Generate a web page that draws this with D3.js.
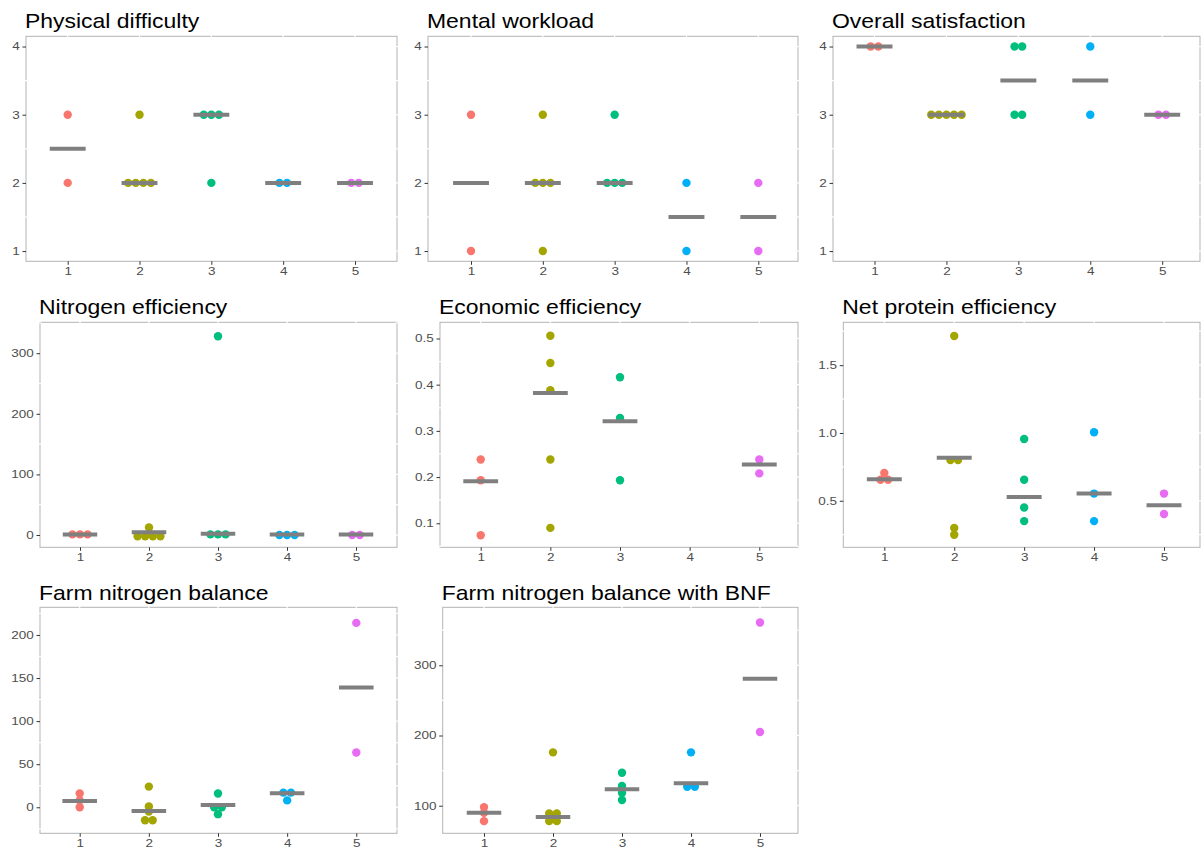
<!DOCTYPE html>
<html><head><meta charset="utf-8">
<script src="https://cdn.jsdelivr.net/npm/d3@7"></script>
<style>
html,body{margin:0;padding:0;background:#fff;}
svg{display:block;}
</style></head><body>
<svg id="chart" width="1203" height="847"></svg>
<script>
// ---------- DATA ----------
const groups = ["1","2","3","4","5"];
const groupColors = ["#F8766D","#A3A500","#00BF7D","#00B0F6","#E76BF3"];
const titles = ["Physical difficulty","Mental workload","Overall satisfaction",
  "Nitrogen efficiency","Economic efficiency","Net protein efficiency",
  "Farm nitrogen balance","Farm nitrogen balance with BNF"];

const physicalDifficulty = [[3,2],[3,2,2,2,2],[3,3,3,2],[2,2],[2,2]];
const physicalMedian = [2.5,2,3,2,2];

const mentalWorkload = [[3,1],[3,2,2,2,1],[3,2,2,2],[2,1],[2,1]];
const mentalMedian = [2,2,2,1.5,1.5];

const overallSatisfaction = [[4,4],[3,3,3,3,3],[4,4,3,3],[4,3],[3,3]];
const overallMedian = [4,3,3.5,3.5,3];

const nitrogenEfficiency = [[1,1,1],[12.5,-2,-2,-2,-2],[328,1,1,1],[0,0,0],[0,0]];
const nitrogenMedian = [1,4.5,2,1,1];

const economicEfficiency = [[0.238,0.193,0.074],[0.506,0.447,0.388,0.238,0.090],[0.416,0.328,0.193],[],[0.238,0.208]];
const economicMedian = [0.191,0.382,0.321,null,0.227];

const netProtein = [[0.705,0.655,0.655],[1.715,0.80,0.80,0.30,0.25],[0.955,0.655,0.45,0.35],[1.005,0.553,0.35],[0.553,0.403]];
const netProteinMedian = [0.659,0.818,0.528,0.553,0.467];

const farmN = [[16,8,0],[24,1,-5,-15,-15],[16,0,0,-8],[17,17,8],[214,63.5]];
const farmNMedian = [7.3,-4.3,2.7,16.2,139];

const farmNBNF = [[98,90,78],[176,89,89,78,78],[147,128,118,108],[176,127,127],[361,205]];
const farmNBNFMedian = [90,84,123.4,132,281];

const yTicksLikert = [1,2,3,4];
const yTicksNitrogen = [0,100,200,300];
const yTicksEconomic = [0.1,0.2,0.3,0.4,0.5];
const yTicksProtein = [0.5,1.0,1.5];
const yTicksFarmN = [0,50,100,150,200];
const yTicksBNF = [100,200,300];

const panels = [
  {values: physicalDifficulty, medians: physicalMedian, yLimits:[0.85,4.15], yTicks:yTicksLikert, fmt:"d"},
  {values: mentalWorkload, medians: mentalMedian, yLimits:[0.85,4.15], yTicks:yTicksLikert, fmt:"d"},
  {values: overallSatisfaction, medians: overallMedian, yLimits:[0.85,4.15], yTicks:yTicksLikert, fmt:"d"},
  {values: nitrogenEfficiency, medians: nitrogenMedian, yLimits:[-20.3,351], yTicks:yTicksNitrogen, fmt:"d"},
  {values: economicEfficiency, medians: economicMedian, yLimits:[0.048,0.535], yTicks:yTicksEconomic, fmt:".1f"},
  {values: netProtein, medians: netProteinMedian, yLimits:[0.157,1.816], yTicks:yTicksProtein, fmt:".1f"},
  {values: farmN, medians: farmNMedian, yLimits:[-30.2,232.1], yTicks:yTicksFarmN, fmt:"d"},
  {values: farmNBNF, medians: farmNBNFMedian, yLimits:[60.7,382.6], yTicks:yTicksBNF, fmt:"d"}
];

// ---------- LAYOUT ----------
const rowY = [{top:36.3,bottom:261.3,title:27.5},{top:322.3,bottom:547.3,title:314},{top:607.3,bottom:833.3,title:600}];
const layout = [
  {left:26,   right:397,  x1:67.7,  x5:355,   row:0},
  {left:428,  right:798,  x1:471,   x5:758.3, row:0},
  {left:833,  right:1200, x1:874.5, x5:1162.2,row:0},
  {left:40,   right:397,  x1:80,    x5:356,   row:1},
  {left:440,  right:798,  x1:480.7, x5:759.3, row:1},
  {left:843.3,right:1200, x1:884.3, x5:1164,  row:1},
  {left:40,   right:397,  x1:79.7,  x5:356.3, row:2},
  {left:442.7,right:798,  x1:484,   x5:760,   row:2}
];

const FONT = "Liberation Sans, Arial, Helvetica, sans-serif";
const svg = d3.select("#chart");
const dotR = 4.2, dotStep = 7.6;

panels.forEach((P, i) => {
  const L = layout[i], R = rowY[L.row];
  const top = R.top, bottom = R.bottom;
  const x = d3.scaleLinear().domain([1,5]).range([L.x1, L.x5]);
  const y = d3.scaleLinear().domain(P.yLimits).range([bottom, top]);
  const step = (L.x5 - L.x1) / 4;
  const g = svg.append("g");

  // panel border
  g.append("rect").attr("x", L.left).attr("y", top)
    .attr("width", L.right - L.left).attr("height", bottom - top)
    .attr("fill", "#fff").attr("stroke", "#b3b3b3").attr("stroke-width", 1);

  // white grid breaks on border
  const gaps = g.append("g").attr("stroke", "#fff").attr("stroke-width", 1.2);
  d3.range(1, 6).forEach(k => {
    gaps.append("line").attr("x1", x(k)).attr("x2", x(k)).attr("y1", top - 1.5).attr("y2", top + 1.5);
  });
  const t = P.yTicks, d = t[1] - t[0];
  const minors = [];
  for (let v = t[0] - d / 2; v <= P.yLimits[1]; v += d / 2) {
    if (v > P.yLimits[0] && v < P.yLimits[1]) minors.push(v);
  }
  minors.forEach(v => {
    gaps.append("line").attr("x1", L.right - 1.5).attr("x2", L.right + 1.5).attr("y1", y(v)).attr("y2", y(v));
    if (!t.some(tt => Math.abs(tt - v) < 1e-9))
      gaps.append("line").attr("x1", L.left - 1.5).attr("x2", L.left + 1.5).attr("y1", y(v)).attr("y2", y(v));
  });

  // dots (dotplot-style centered stacks)
  const dots = [];
  P.values.forEach((vals, gi) => {
    const counts = d3.rollup(vals, a => a.length, v => v);
    for (const [v, n] of counts) {
      for (let k = 0; k < n; k++) dots.push({g: gi, v: v, off: (k - (n - 1) / 2) * dotStep});
    }
  });
  g.append("g").selectAll("circle").data(dots).join("circle")
    .attr("cx", dd => x(dd.g + 1) + dd.off)
    .attr("cy", dd => y(dd.v))
    .attr("r", dotR)
    .attr("fill", dd => groupColors[dd.g]);

  // median bars
  g.append("g").selectAll("line").data(P.medians.map((m, gi) => ({m, gi})).filter(dd => dd.m !== null))
    .join("line")
    .attr("x1", dd => x(dd.gi + 1) - step * 0.25)
    .attr("x2", dd => x(dd.gi + 1) + step * 0.25)
    .attr("y1", dd => y(dd.m)).attr("y2", dd => y(dd.m))
    .attr("stroke", "#7f7f7f").attr("stroke-width", 4);

  // axes
  const yAxis = g.append("g").attr("transform", `translate(${L.left},0)`)
    .call(d3.axisLeft(y).tickValues(P.yTicks).tickFormat(d3.format(P.fmt)).tickSize(3.5).tickPadding(1.5));
  const xAxis = g.append("g").attr("transform", `translate(0,${bottom})`)
    .call(d3.axisBottom(x).tickValues([1,2,3,4,5]).tickFormat(k => groups[k - 1]).tickSize(3.5).tickPadding(2.5));
  [yAxis, xAxis].forEach(a => {
    a.select(".domain").remove();
    a.attr("font-family", FONT).attr("font-size", 10.8);
    a.selectAll("line").attr("stroke", "#333").attr("stroke-width", 1);
    a.selectAll("text").attr("fill", "#4d4d4d").attr("transform", "scale(1.25,1)");
  });

  // title
  g.append("text")
    .attr("transform", `translate(${L.left - 1},${R.title}) scale(1.12,1)`)
    .attr("font-family", FONT).attr("font-size", 20.5).attr("fill", "#000")
    .text(titles[i]);
});
</script>
</body></html>
